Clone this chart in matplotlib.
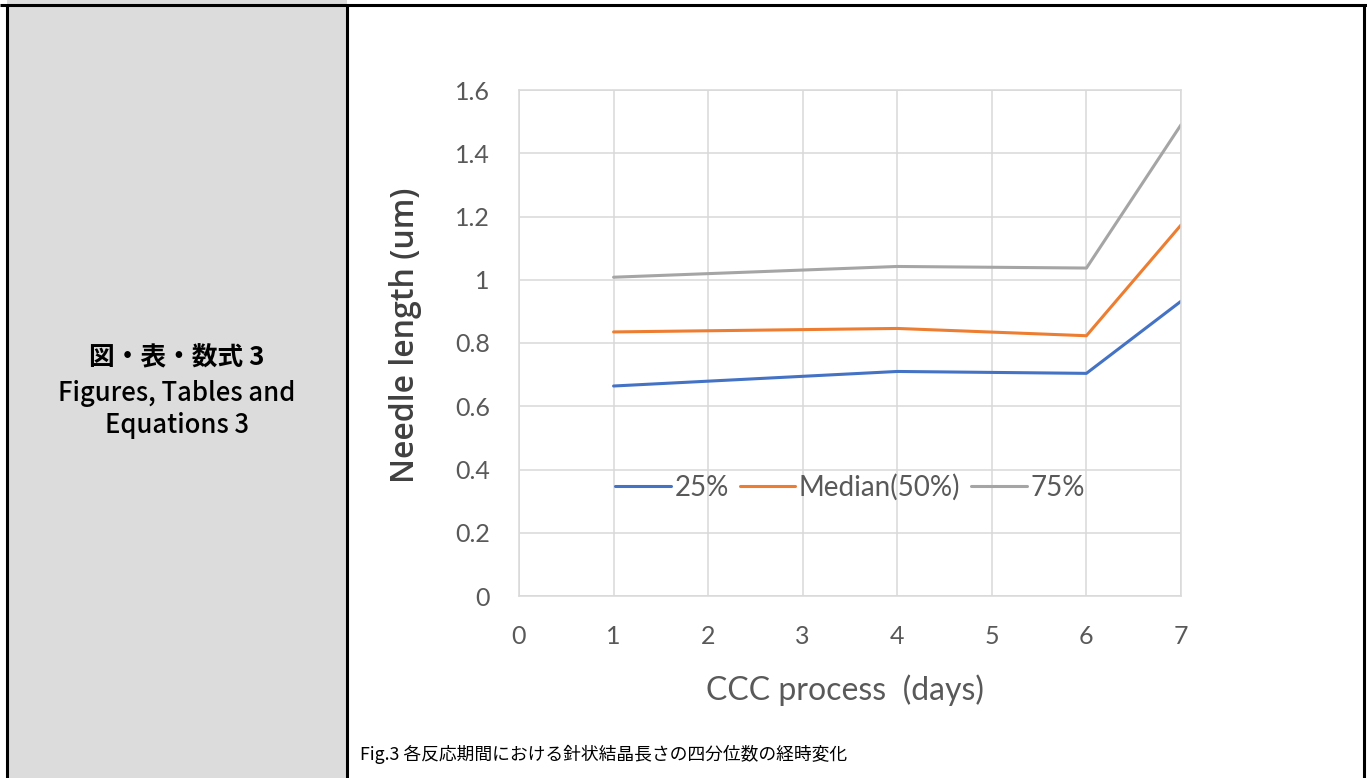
import matplotlib
matplotlib.use("Agg")
import matplotlib.pyplot as plt
from matplotlib.patches import Rectangle
from matplotlib.lines import Line2D

# Quartiles of needle crystal length over the CCC process
days = [1, 4, 6, 7]
q25 = [0.664, 0.710, 0.704, 0.932]
median = [0.835, 0.846, 0.823, 1.173]
q75 = [1.008, 1.042, 1.037, 1.490]

series_names = ["25%", "Median(50%)", "75%"]
series_colors = ["#4472C4", "#ED7D31", "#A5A5A5"]

x_ticks = [0, 1, 2, 3, 4, 5, 6, 7]
y_ticks = [0, 0.2, 0.4, 0.6, 0.8, 1.0, 1.2, 1.4, 1.6]
y_tick_labels = ["0", "0.2", "0.4", "0.6", "0.8", "1", "1.2", "1.4", "1.6"]

cell_title = ["図・表・数式 3", "Figures, Tables and", "Equations 3"]
caption = "Fig.3 各反応期間における針状結晶長さの四分位数の経時変化"

W, H = 1367, 778
fig = plt.figure(figsize=(W / 100, H / 100), dpi=100)
fig.patch.set_facecolor("white")

# Table frame drawn in pixel coordinates
bg = fig.add_axes([0, 0, 1, 1], zorder=-1)
bg.set_xlim(0, W)
bg.set_ylim(H, 0)
bg.axis("off")
bg.add_patch(Rectangle((7, 0), 340, H, facecolor="#DCDCDC", edgecolor="none"))
for xs, ys in [((0, W), (5, 5)), ((7, 7), (5, H)), ((347, 347), (5, H)), ((1364, 1364), (5, H))]:
    bg.add_line(Line2D(xs, ys, color="black", lw=2.2, solid_capstyle="butt"))

cjk = ["Noto Sans CJK JP", "DejaVu Sans"]
bg.text(177, 358, cell_title[0], ha="center", va="center", fontsize=18.5,
        fontweight="bold", family=cjk)
bg.text(177, 393, cell_title[1], ha="center", va="center", fontsize=18.5,
        fontweight="medium", family=cjk)
bg.text(177, 425, cell_title[2], ha="center", va="center", fontsize=18.5,
        fontweight="medium", family=cjk)
bg.text(360, 754, caption, ha="left", va="center", fontsize=12.8, family=cjk)

# Chart
ax = fig.add_axes([519 / W, 1 - 596 / H, 662 / W, 506 / H])
ax.set_facecolor("none")
for vals, name, color in zip([q25, median, q75], series_names, series_colors):
    ax.plot(days, vals, color=color, lw=2.2, label=name, solid_capstyle="round")

ax.set_xlim(0, 7)
ax.set_ylim(0, 1.6)
ax.set_xticks(x_ticks)
ax.set_yticks(y_ticks)
ax.set_yticklabels(y_tick_labels)
ax.grid(True, color="#D9D9D9", lw=1.1)
ax.set_axisbelow(True)
for sp in ax.spines.values():
    sp.set_color("#D9D9D9")
    sp.set_linewidth(1.1)
ax.tick_params(length=0, labelsize=18, labelcolor="#595959")
ax.tick_params(axis="y", pad=21)
ax.tick_params(axis="x", pad=21)
for lab in ax.get_xticklabels() + ax.get_yticklabels():
    lab.set_family("Lato")

ax.set_xlabel("CCC process  (days)", fontsize=23, color="#595959", family="Lato")
ax.xaxis.set_label_coords(0.493, -0.186)
ax.xaxis.label.set_va("center")
ax.set_ylabel("Needle length (um)", fontsize=23, color="#404040", family="Open Sans",
              fontweight="semibold")
ax.yaxis.set_label_coords(-0.172, 0.516)
ax.yaxis.label.set_va("center")

leg = ax.legend(loc="center", bbox_to_anchor=(0.5, 0.215), ncol=3, frameon=False,
                fontsize=20, handlelength=2.0, handletextpad=0.12, columnspacing=0.4)
for t in leg.get_texts():
    t.set_color("#595959")
    t.set_family("Lato")

fig.savefig("out.png", dpi=100)
